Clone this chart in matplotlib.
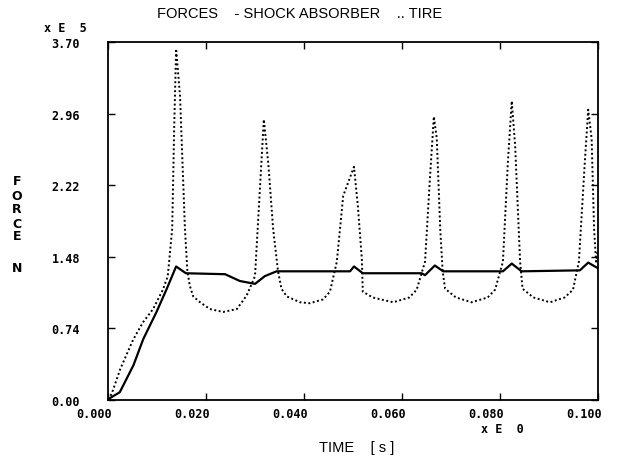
import matplotlib
matplotlib.use("Agg")
import matplotlib.pyplot as plt
import matplotlib.transforms as mtransforms

# shock absorber force (solid), time in s, force in 1e5 N
shock_t = [0.0, 0.0004, 0.0024, 0.0052, 0.0072, 0.0099, 0.0120, 0.0139, 0.0159,
           0.0239, 0.0269, 0.0300, 0.0320, 0.0344, 0.0494, 0.0502, 0.0520, 0.0640,
           0.0647, 0.0667, 0.0684, 0.0806, 0.0824, 0.0844, 0.0963, 0.0980, 0.0997, 0.1000]
shock_f = [0.0, 0.02, 0.08, 0.36, 0.63, 0.91, 1.15, 1.38, 1.31,
           1.30, 1.23, 1.20, 1.28, 1.33, 1.33, 1.38, 1.31, 1.31,
           1.29, 1.39, 1.33, 1.33, 1.41, 1.33, 1.34, 1.42, 1.37, 1.36]

# tire force (dotted)
tire_t = [0.0002, 0.0010, 0.0025, 0.0051, 0.0071, 0.0092, 0.0112, 0.0122, 0.0131, 0.0135,
          0.0139, 0.0147, 0.0157, 0.0162, 0.0167, 0.0174, 0.0188, 0.0208, 0.0235, 0.0263,
          0.0283, 0.0300, 0.0318, 0.0327, 0.0337, 0.0347, 0.0354, 0.0365, 0.0392, 0.0412,
          0.0439, 0.0453, 0.0467, 0.0480, 0.0502, 0.0510, 0.0518, 0.0520, 0.0540, 0.0582,
          0.0615, 0.0630, 0.0647, 0.0657, 0.0665, 0.0671, 0.0678, 0.0683, 0.0688, 0.0710,
          0.0742, 0.0775, 0.0790, 0.0806, 0.0816, 0.0824, 0.0831, 0.0841, 0.0846, 0.0868,
          0.0902, 0.0932, 0.0949, 0.0961, 0.0973, 0.0980, 0.0987, 0.0992, 0.0996, 0.1000]
tire_f = [0.0, 0.10, 0.32, 0.62, 0.80, 0.94, 1.14, 1.28, 1.77, 2.80,
          3.63, 3.14, 1.77, 1.33, 1.18, 1.07, 1.01, 0.94, 0.91, 0.94,
          1.08, 1.28, 2.90, 2.45, 1.77, 1.33, 1.15, 1.07, 1.01, 1.00,
          1.04, 1.12, 1.43, 2.11, 2.41, 2.00, 1.46, 1.12, 1.06, 1.01,
          1.06, 1.14, 1.43, 2.29, 2.93, 2.70, 1.77, 1.33, 1.15, 1.06,
          1.01, 1.06, 1.14, 1.43, 2.45, 3.09, 2.62, 1.43, 1.15, 1.06,
          1.01, 1.06, 1.14, 1.43, 2.45, 3.00, 2.70, 1.77, 1.43, 1.55]

x_ticks = [0.0, 0.02, 0.04, 0.06, 0.08, 0.10]
x_labels = ["0.000", "0.020", "0.040", "0.060", "0.080", "0.100"]
y_ticks = [0.0, 0.74, 1.48, 2.22, 2.96, 3.70]
y_labels = ["0.00", "0.74", "1.48", "2.22", "2.96", "3.70"]

tick_font = dict(family="DejaVu Sans Mono", weight="bold", size=8.5)

fig = plt.figure(figsize=(6.22, 4.64), dpi=100)
ax = fig.add_axes([108 / 622, 63 / 464, 490 / 622, 358 / 464])

ax.plot(shock_t, shock_f, color="black", lw=1.6, solid_joinstyle="round")
ax.plot(tire_t, tire_f, color="black", lw=1.4, linestyle=(0, (1, 1.3)))

ax.set_xlim(0, 0.1)
ax.set_ylim(0, 3.70)
ax.set_xticks(x_ticks)
ax.set_xticklabels(x_labels, fontdict=tick_font)
ax.set_yticks(y_ticks)
ax.set_yticklabels(y_labels, fontdict=tick_font)
ax.tick_params(direction="in", length=5, width=1, top=True, right=True,
               pad=5, color="black")
ax.tick_params(axis="y", pad=20)
for s in ax.spines.values():
    s.set_linewidth(1.3)

# x labels sit a bit left of their ticks, like the plotter output
shift = mtransforms.ScaledTranslation(-14 / 100, 0, fig.dpi_scale_trans)
for lbl in ax.get_xticklabels():
    lbl.set_transform(lbl.get_transform() + shift)

fig.text(300 / 622, 1 - 14 / 464, "FORCES    - SHOCK ABSORBER    .. TIRE",
         ha="center", va="center", family="Liberation Sans", size=10.5)
fig.text(65 / 622, 1 - 28 / 464, "x E  5", ha="center", va="center", **tick_font)
fig.text(502 / 622, 1 - 430 / 464, "x E  0", ha="center", va="center", **tick_font)
fig.text(357 / 622, 1 - 448 / 464, "TIME    [ s ]", ha="center", va="center",
         family="Liberation Sans", size=10.5)
for ch, yy in zip("FORCE", [182, 196, 210, 224, 237]):
    fig.text(17 / 622, 1 - yy / 464, ch, ha="center", va="center",
             family="DejaVu Sans", weight="bold", size=9)
fig.text(17 / 622, 1 - 268 / 464, "N", ha="center", va="center",
         family="DejaVu Sans", weight="bold", size=9)

fig.savefig("out.png", dpi=100)
